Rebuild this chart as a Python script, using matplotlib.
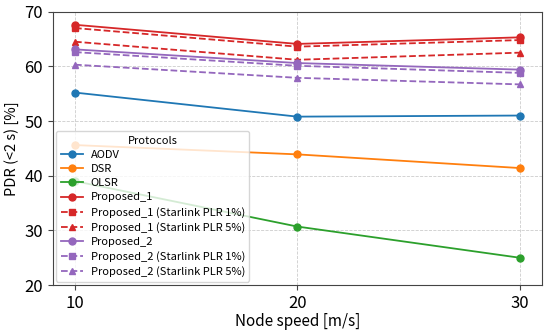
import matplotlib.pyplot as plt

plt.rcParams['font.family'] = ['Noto Sans CJK JP', 'DejaVu Sans']

speeds = [10, 20, 30]
aodv = [55.2, 50.8, 51.0]
dsr = [45.6, 43.9, 41.4]
olsr = [39.0, 30.7, 25.0]
prop1 = [67.6, 64.1, 65.3]
prop1_plr1 = [67.0, 63.6, 64.8]
prop1_plr5 = [64.5, 61.2, 62.5]
prop2 = [63.1, 60.6, 59.4]
prop2_plr1 = [62.6, 60.1, 58.8]
prop2_plr5 = [60.3, 57.9, 56.7]

series = [
    ("AODV", aodv, "tab:blue", "-", "o"),
    ("DSR", dsr, "tab:orange", "-", "o"),
    ("OLSR", olsr, "tab:green", "-", "o"),
    ("Proposed_1", prop1, "tab:red", "-", "o"),
    ("Proposed_1 (Starlink PLR 1%)", prop1_plr1, "tab:red", "--", "s"),
    ("Proposed_1 (Starlink PLR 5%)", prop1_plr5, "tab:red", "--", "^"),
    ("Proposed_2", prop2, "tab:purple", "-", "o"),
    ("Proposed_2 (Starlink PLR 1%)", prop2_plr1, "tab:purple", "--", "s"),
    ("Proposed_2 (Starlink PLR 5%)", prop2_plr5, "tab:purple", "--", "^"),
]

fig = plt.figure(figsize=(5.5, 3.33), dpi=100)
ax = fig.add_axes([0.096, 0.144, 0.889, 0.821])

for name, vals, color, ls, mk in series:
    ax.plot(speeds, vals, color=color, linestyle=ls, marker=mk,
            markersize=5, linewidth=1.3, label=name)

ax.set_ylim(20, 70)
ax.set_xticks(speeds)
ax.set_yticks([20, 30, 40, 50, 60, 70])
ax.tick_params(axis='both', labelsize=12, length=3.5, color='#444444')
ax.set_xlabel("Node speed [m/s]", fontsize=11, labelpad=1)
ax.set_ylabel("PDR (<2 s) [%]", fontsize=10.5)
ax.grid(True, linestyle='--', color='#cccccc', linewidth=0.6)
for sp in ax.spines.values():
    sp.set_color('#444444')

leg = ax.legend(title="Protocols", loc='lower left', fontsize=8,
                title_fontsize=8, framealpha=0.8, borderaxespad=0.3,
                labelspacing=0.38, handlelength=2.0, handletextpad=0.7)

fig.savefig("out.png", dpi=100)
